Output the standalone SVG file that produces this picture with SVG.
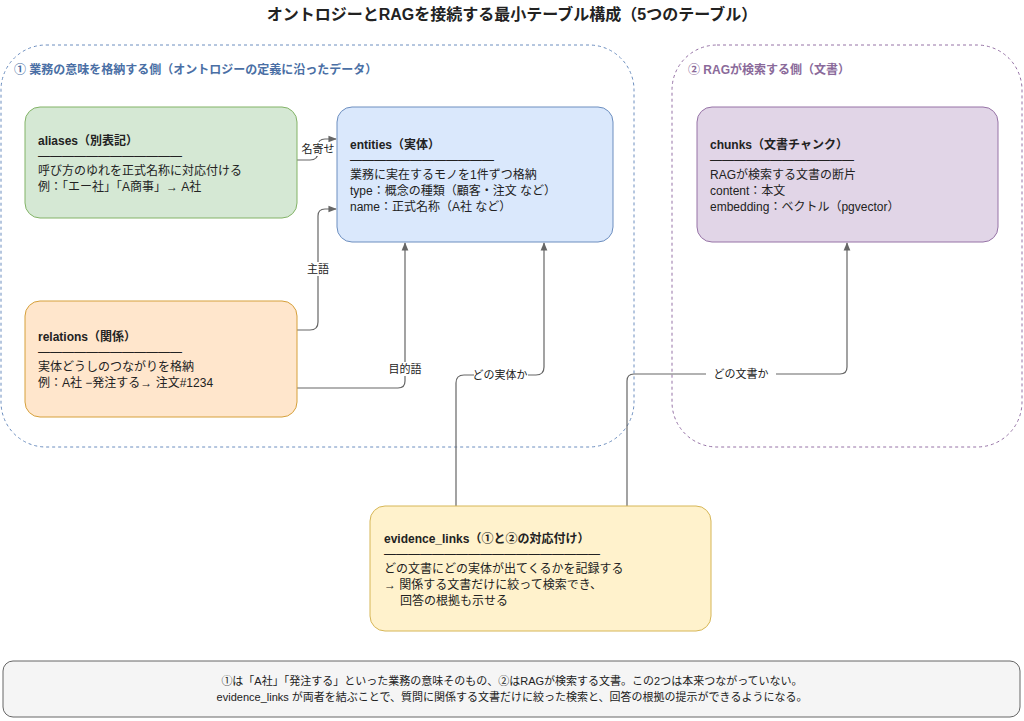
<svg xmlns="http://www.w3.org/2000/svg" width="1024" height="721" viewBox="0 0 1024 721">
<style>
text{font-family:"Liberation Sans","Noto Sans CJK JP",sans-serif;font-size:12px;fill:#222}
.t{font-weight:bold}
.c{stroke:#666;stroke-width:1.2;fill:none;marker-end:url(#a)}
.l{font-size:11px;text-anchor:middle}
.lb{fill:#fff}
</style>
<defs><marker id="a" viewBox="0 0 10 10" refX="9" refY="5" markerWidth="7" markerHeight="7" orient="auto"><path d="M0 1L10 5L0 9z" fill="#666"/></marker></defs>
<rect width="1024" height="721" fill="#fff"/>
<text x="512" y="20" class="t" style="font-size:16px" text-anchor="middle">オントロジーとRAGを接続する最小テーブル構成（5つのテーブル）</text>
<g id="group1"><rect x="1" y="45" width="633" height="402" rx="45" fill="none" stroke="#6c8ebf" stroke-dasharray="3 3"/>
<text x="14" y="74" class="t" style="fill:#4a6fa5">① 業務の意味を格納する側（オントロジーの定義に沿ったデータ）</text></g>
<g id="group2"><rect x="672" y="45" width="350" height="402" rx="45" fill="none" stroke="#9673a6" stroke-dasharray="3 3"/>
<text x="688" y="74" class="t" style="fill:#8a6a9a">② RAGが検索する側（文書）</text></g>
<g id="connectors">
<path class="c" d="M297 160H310Q318 160 318 152V146Q318 139 325 139H336"/>
<path class="c" d="M297 330H310Q318 330 318 322V216Q318 209 325 209H336"/>
<path class="c" d="M297 388H398Q405 388 405 381V243"/>
<path class="c" d="M456 506V383Q456 375 464 375H536Q544 375 544 367V243"/>
<path class="c" d="M627 506V381Q627 374 634 374H840Q847 374 847 367V243"/>
<rect class="lb" x="299" y="142" width="38" height="14"/><text class="l" x="318" y="153">名寄せ</text>
<rect class="lb" x="305" y="262" width="26" height="14"/><text class="l" x="318" y="273">主語</text>
<rect class="lb" x="387" y="362" width="36" height="14"/><text class="l" x="405" y="373">目的語</text>
<rect class="lb" x="474" y="368" width="54" height="14"/><text class="l" x="500" y="379">どの実体か</text>
<rect class="lb" x="706" y="367" width="70" height="14"/><text class="l" x="741" y="378">どの文書か</text>
</g>
<g id="aliases"><rect x="25" y="107" width="272" height="111" rx="15" fill="#d5e8d4" stroke="#82b366"/>
<text x="38" y="145" class="t">aliases（別表記）</text><text x="38" y="160">――――――――――――</text>
<text x="38" y="175">呼び方のゆれを正式名称に対応付ける</text><text x="38" y="191">例：「エー社」「A商事」→ A社</text></g>
<g id="entities"><rect x="337" y="107" width="276" height="135" rx="15" fill="#dae8fc" stroke="#6c8ebf"/>
<text x="350" y="149" class="t">entities（実体）</text><text x="350" y="164">――――――――――――</text>
<text x="350" y="179">業務に実在するモノを1件ずつ格納</text><text x="350" y="195">type：概念の種類（顧客・注文 など）</text><text x="350" y="211">name：正式名称（A社 など）</text></g>
<g id="relations"><rect x="25" y="301" width="272" height="116" rx="15" fill="#ffe6cc" stroke="#d6a03a"/>
<text x="38" y="341" class="t">relations（関係）</text><text x="38" y="356">――――――――――――</text>
<text x="38" y="371">実体どうしのつながりを格納</text><text x="38" y="387">例：A社 −発注する→ 注文#1234</text></g>
<g id="chunks"><rect x="697" y="107" width="301" height="135" rx="15" fill="#e1d5e7" stroke="#9673a6"/>
<text x="710" y="149" class="t">chunks（文書チャンク）</text><text x="710" y="164">――――――――――――</text>
<text x="710" y="179">RAGが検索する文書の断片</text><text x="710" y="195">content：本文</text><text x="710" y="211">embedding：ベクトル（pgvector）</text></g>
<g id="evidence_links"><rect x="370" y="506" width="341" height="125" rx="15" fill="#fff2cc" stroke="#d6b656"/>
<text x="384" y="543" class="t">evidence_links（①と②の対応付け）</text><text x="384" y="558">――――――――――――――――――</text>
<text x="384" y="573">どの文書にどの実体が出てくるかを記録する</text><text x="384" y="589">→ 関係する文書だけに絞って検索でき、</text><text x="400" y="605">回答の根拠も示せる</text></g>
<g id="note"><rect x="3" y="661" width="1017" height="56" rx="10" fill="#f5f5f5" stroke="#666"/>
<text x="512" y="685" class="l">①は「A社」「発注する」といった業務の意味そのもの、②はRAGが検索する文書。この2つは本来つながっていない。</text>
<text x="512" y="701" class="l">evidence_links が両者を結ぶことで、質問に関係する文書だけに絞った検索と、回答の根拠の提示ができるようになる。</text></g>
</svg>
